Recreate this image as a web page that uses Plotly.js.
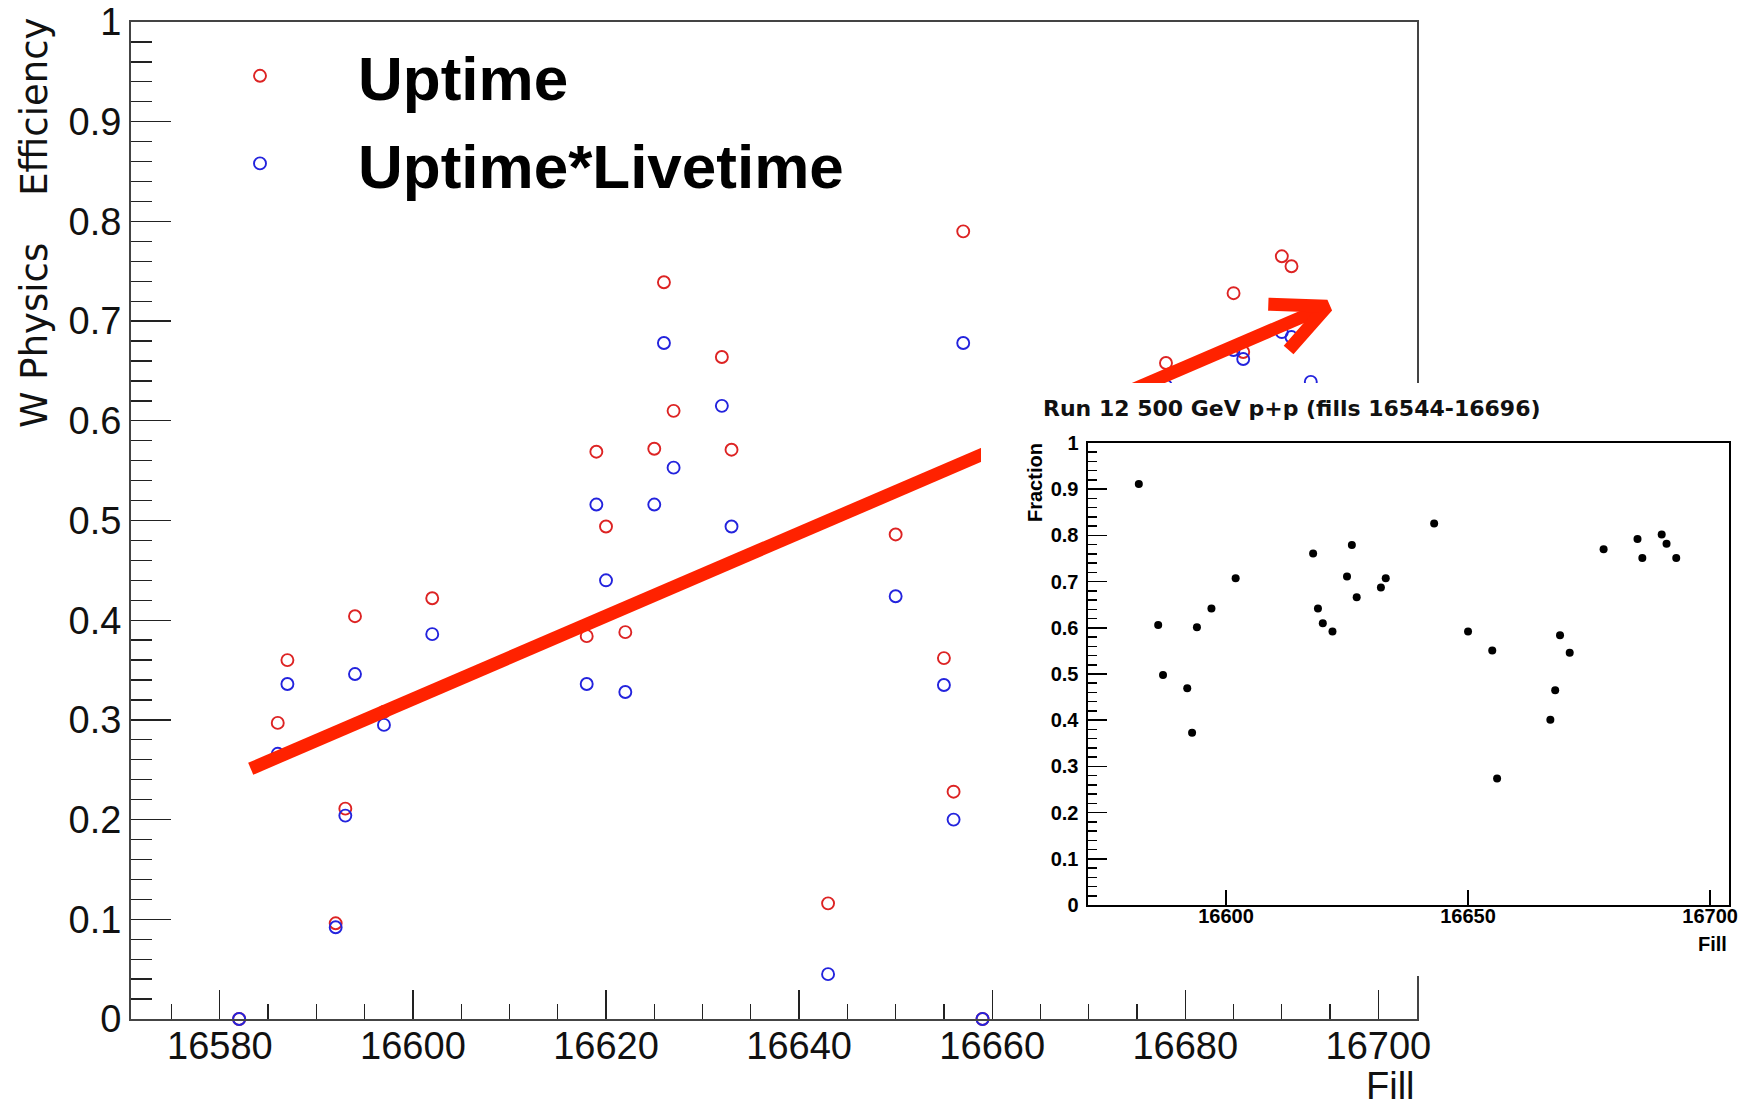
<!DOCTYPE html>
<html>
<head>
<meta charset="utf-8">
<script src="https://cdn.plot.ly/plotly-3.0.1.min.js"></script>
<style>html,body{margin:0;padding:0;background:#fff;}#chart{width:1739px;height:1106px;}</style>
</head>
<body>
<div id="chart"></div>
<script>
// ---- Main plot data (W physics efficiency per fill) ----
const fills = [16582, 16586, 16587, 16592, 16593, 16594, 16597, 16602, 16618, 16619, 16620, 16622, 16625, 16626, 16627, 16632, 16633, 16643, 16650, 16655, 16656, 16657, 16659, 16678, 16685, 16686, 16690, 16691, 16693];
const uptime = [0, 0.297, 0.360, 0.096, 0.211, 0.404, 0.308, 0.422, 0.384, 0.569, 0.494, 0.388, 0.572, 0.739, 0.610, 0.664, 0.571, 0.116, 0.486, 0.362, 0.228, 0.790, 0, 0.658, 0.728, 0.669, 0.765, 0.755, 0.700];
const uptimeLivetime = [0, 0.266, 0.336, 0.092, 0.204, 0.346, 0.295, 0.386, 0.336, 0.516, 0.440, 0.328, 0.516, 0.678, 0.553, 0.615, 0.494, 0.045, 0.424, 0.335, 0.200, 0.678, 0, 0.635, 0.671, 0.662, 0.689, 0.684, 0.639];

// ---- Inset data (Run 12 500 GeV p+p fraction per fill) ----
const insetFills = [16582, 16586, 16587, 16592, 16593, 16594, 16597, 16602, 16618, 16619, 16620, 16622, 16625, 16626, 16627, 16632, 16633, 16643, 16650, 16655, 16656, 16667, 16668, 16669, 16671, 16678, 16685, 16686, 16690, 16691, 16693];
const insetFraction = [0.911, 0.606, 0.498, 0.469, 0.373, 0.601, 0.642, 0.707, 0.761, 0.642, 0.610, 0.592, 0.711, 0.779, 0.666, 0.687, 0.707, 0.826, 0.592, 0.551, 0.274, 0.401, 0.465, 0.584, 0.546, 0.770, 0.792, 0.751, 0.802, 0.782, 0.751];

// ---- Hand-drawn red arrow overlay (fill, efficiency) ----
const arrowX = [16583.2, 16694.7, null, 16688.6, 16694.7, 16690.7];
const arrowY = [0.251, 0.715, null, 0.717, 0.715, 0.671];

// ---- Labels ----
const seriesNames = ['Uptime', 'Uptime*Livetime'];
const yTitle = 'W Physics\u00a0\u00a0\u00a0\u00a0Efficiency';
const xTitle = 'Fill';
const insetTitle = 'Run 12 500 GeV p+p (fills 16544-16696)';
const insetYTitle = 'Fraction';

const W = 1739, H = 1106;
const px = v => v / W;
const py = v => 1 - v / H;

const traces = [
  {
    x: fills, y: uptime, type: 'scatter', mode: 'markers', name: seriesNames[0],
    legendgroup: 'a', xaxis: 'x', yaxis: 'y', cliponaxis: false,
    marker: {symbol: 'circle-open', size: 12, color: '#dd2323', line: {width: 1.9}}
  },
  {
    x: fills, y: uptimeLivetime, type: 'scatter', mode: 'markers', name: seriesNames[1],
    legendgroup: 'b', xaxis: 'x', yaxis: 'y', cliponaxis: false,
    marker: {symbol: 'circle-open', size: 12, color: '#2323dd', line: {width: 1.9}}
  },
  {
    x: arrowX, y: arrowY, type: 'scatter', mode: 'lines', showlegend: false, hoverinfo: 'skip',
    xaxis: 'x', yaxis: 'y', connectgaps: false,
    line: {color: '#ff2200', width: 13}
  },
  {
    x: [], y: [], type: 'scatter', mode: 'markers', showlegend: false, xaxis: 'x2', yaxis: 'y2'
  },
  {
    x: insetFills, y: insetFraction, type: 'scatter', mode: 'markers', showlegend: false,
    xaxis: 'x3', yaxis: 'y3',
    marker: {symbol: 'circle', size: 8, color: '#000'}
  }
];

const mainFont = {family: 'Liberation Sans, Arial, sans-serif', size: 38, color: '#111'};
const insetFont = {family: 'Liberation Sans, Arial, sans-serif', size: 20, color: '#000', weight: 'bold'};

const layout = {
  width: W, height: H,
  margin: {l: 0, r: 0, t: 0, b: 0, pad: 0},
  paper_bgcolor: '#fff', plot_bgcolor: '#fff',
  showlegend: true,
  legend: {
    x: px(162), y: py(29), xanchor: 'left', yanchor: 'top',
    font: {family: 'Liberation Sans, Arial, sans-serif', size: 62, color: '#000', weight: 'bold'},
    itemwidth: 186, itemsizing: 'trace', tracegroupgap: 4,
    bgcolor: 'rgba(0,0,0,0)', borderwidth: 0
  },
  xaxis: {
    domain: [px(131), px(1417)], anchor: 'y',
    range: [16570.8, 16704], tick0: 16580, dtick: 20, tickformat: 'd',
    ticks: 'inside', ticklen: 29, tickwidth: 1.3, tickcolor: '#222',
    minor: {dtick: 5, ticks: 'inside', ticklen: 15, tickwidth: 1.3, tickcolor: '#222'},
    showline: true, linecolor: '#444', linewidth: 2, mirror: true,
    showgrid: false, zeroline: false, tickfont: mainFont, ticklabelstandoff: -8
  },
  yaxis: {
    domain: [py(1019), py(22)], anchor: 'x',
    range: [0, 1], tick0: 0, dtick: 0.1,
    ticks: 'inside', ticklen: 40, tickwidth: 1.3, tickcolor: '#222',
    minor: {dtick: 0.02, ticks: 'inside', ticklen: 21, tickwidth: 1.3, tickcolor: '#222'},
    showline: true, linecolor: '#444', linewidth: 2, mirror: true,
    showgrid: false, zeroline: false, tickfont: mainFont, ticklabelstandoff: 0
  },
  xaxis2: {
    domain: [px(981), 1], anchor: 'y2', range: [0, 1],
    showline: false, showgrid: false, zeroline: false, showticklabels: false, ticks: ''
  },
  yaxis2: {
    domain: [py(976), py(383)], anchor: 'x2', range: [0, 1],
    showline: false, showgrid: false, zeroline: false, showticklabels: false, ticks: ''
  },
  xaxis3: {
    domain: [px(1087.5), px(1729)], anchor: 'y3',
    range: [16571.4, 16703.9], tick0: 16600, dtick: 50, tickformat: 'd',
    ticks: 'inside', ticklen: 15, tickwidth: 1.5, tickcolor: '#000',
    showline: true, linecolor: '#000', linewidth: 2, mirror: true,
    showgrid: false, zeroline: false, tickfont: insetFont, ticklabelstandoff: -8
  },
  yaxis3: {
    domain: [py(905), py(443)], anchor: 'x3',
    range: [0, 1], tick0: 0, dtick: 0.1,
    ticks: 'inside', ticklen: 19, tickwidth: 1.5, tickcolor: '#000',
    minor: {dtick: 0.02, ticks: 'inside', ticklen: 9, tickwidth: 1.5, tickcolor: '#000'},
    showline: true, linecolor: '#000', linewidth: 2, mirror: true,
    showgrid: false, zeroline: false, tickfont: insetFont, ticklabelstandoff: 3
  },
  annotations: [
    {text: yTitle, xref: 'paper', yref: 'paper', x: px(34), y: py(223), xanchor: 'center', yanchor: 'middle',
     textangle: -90, showarrow: false, font: {family: 'DejaVu Sans, sans-serif', size: 37, color: '#111'}},
    {text: xTitle, xref: 'paper', yref: 'paper', x: px(1417), y: py(1086), xanchor: 'right', yanchor: 'middle',
     showarrow: false, font: mainFont},
    {text: insetTitle, xref: 'paper', yref: 'paper', x: px(1041), y: py(408), xanchor: 'left', yanchor: 'middle',
     showarrow: false, font: {family: 'DejaVu Sans, sans-serif', size: 22, color: '#111', weight: 'bold'}},
    {text: insetYTitle, xref: 'paper', yref: 'paper', x: px(1035), y: py(483), xanchor: 'center', yanchor: 'middle',
     textangle: -90, showarrow: false, font: insetFont},
    {text: xTitle, xref: 'paper', yref: 'paper', x: px(1729), y: py(944), xanchor: 'right', yanchor: 'middle',
     showarrow: false, font: insetFont}
  ]
};

Plotly.newPlot('chart', traces, layout, {displayModeBar: false, staticPlot: true});
</script>
</body>
</html>
